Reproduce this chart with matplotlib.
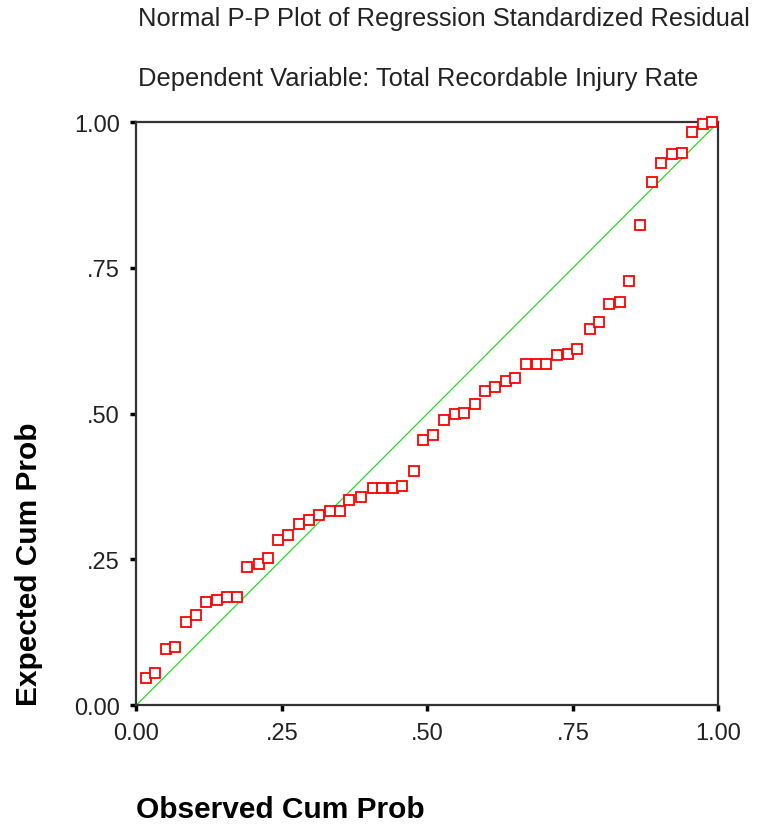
import matplotlib
matplotlib.use("Agg")
import matplotlib.pyplot as plt

plt.rcParams['font.family'] = ['Liberation Sans', 'DejaVu Sans']

# observed vs expected cumulative probabilities
observed = [0.016, 0.031, 0.051, 0.066, 0.085, 0.103, 0.119, 0.138, 0.156, 0.172,
            0.190, 0.210, 0.226, 0.244, 0.260, 0.279, 0.297, 0.314, 0.332, 0.350,
            0.366, 0.386, 0.406, 0.422, 0.440, 0.457, 0.476, 0.493, 0.510, 0.528,
            0.547, 0.562, 0.582, 0.598, 0.616, 0.635, 0.651, 0.669, 0.688, 0.704,
            0.722, 0.741, 0.757, 0.779, 0.794, 0.812, 0.831, 0.847, 0.866, 0.885,
            0.901, 0.920, 0.938, 0.954, 0.973, 0.989]
expected = [0.046, 0.055, 0.096, 0.099, 0.143, 0.155, 0.177, 0.180, 0.186, 0.186,
            0.236, 0.242, 0.252, 0.283, 0.292, 0.310, 0.317, 0.326, 0.333, 0.333,
            0.351, 0.357, 0.373, 0.373, 0.373, 0.376, 0.401, 0.455, 0.464, 0.489,
            0.499, 0.501, 0.517, 0.539, 0.545, 0.555, 0.561, 0.585, 0.585, 0.585,
            0.600, 0.602, 0.611, 0.645, 0.657, 0.688, 0.692, 0.727, 0.823, 0.898,
            0.929, 0.945, 0.947, 0.983, 0.997, 1.000]

ticks = [0, 0.25, 0.5, 0.75, 1.0]
tick_labels = ['0.00', '.25', '.50', '.75', '1.00']

fig = plt.figure(figsize=(7.57, 8.28), dpi=100)
ax = fig.add_axes([0.1803, 0.1473, 0.7688, 0.7041])

ax.plot([0, 1], [0, 1], color='#22dd22', lw=0.9, zorder=2)
ax.plot(observed, expected, ls='none', marker='s', ms=6.8, mfc='white',
        mec='red', mew=1.3, zorder=3, clip_on=False)

ax.set_xlim(0, 1)
ax.set_ylim(0, 1)
ax.set_xticks(ticks)
ax.set_xticklabels(tick_labels)
ax.set_yticks(ticks)
ax.set_yticklabels(tick_labels)
ax.tick_params(direction='out', length=4, width=2.5, labelsize=17,
               colors='black', labelcolor='#222222', pad=8)
for s in ax.spines.values():
    s.set_linewidth(1.6)
    s.set_color('#333333')

ax.set_xlabel('Observed Cum Prob', fontsize=21.5, fontweight='bold', loc='left', labelpad=37)
ax.set_ylabel('Expected Cum Prob', fontsize=21.5, fontweight='bold', loc='bottom', labelpad=22)

fig.text(138 / 757, 1 - 26 / 828, 'Normal P-P Plot of Regression Standardized Residual',
         fontsize=18.4, va='baseline', ha='left', color='#222222')
fig.text(138 / 757, 1 - 86 / 828, 'Dependent Variable: Total Recordable Injury Rate',
         fontsize=18.4, va='baseline', ha='left', color='#222222')

fig.savefig('out.png', dpi=100)
